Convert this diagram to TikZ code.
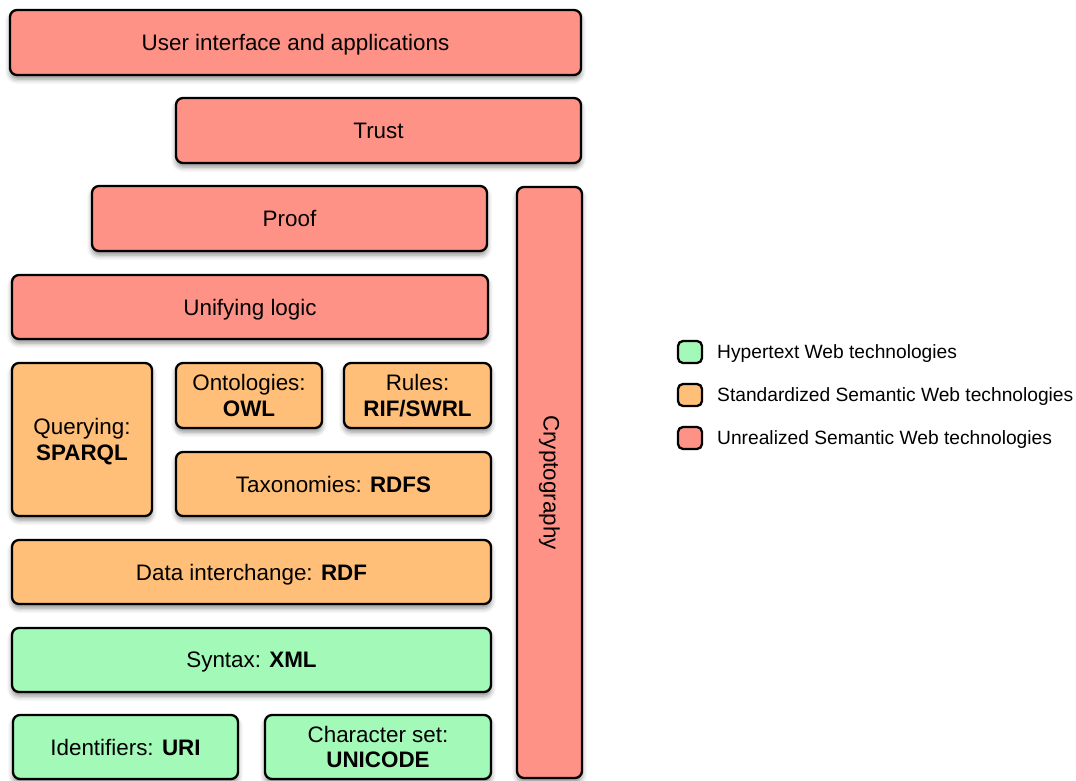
\documentclass[tikz,border=0pt]{standalone}
\usepackage{fontspec}
\setmainfont{Liberation Sans}
\usetikzlibrary{shadows.blur}

\definecolor{unrealized}{RGB}{255,146,134}
\definecolor{standard}{RGB}{255,191,120}
\definecolor{hypertext}{RGB}{163,249,183}

\tikzset{
  layer/.style={draw=black, line width=2.3pt, rounded corners=7pt,
    inner sep=0pt, align=center, text depth=0pt,
    font=\fontsize{22.4}{25.5}\selectfont,
    blur shadow={shadow xshift=0pt, shadow yshift=-4pt,
      shadow blur radius=5pt, shadow opacity=45}},
  unrealbox/.style={layer, fill=unrealized},
  standardbox/.style={layer, fill=standard},
  hyperbox/.style={layer, fill=hypertext},
  verticalbox/.style={unrealbox, text depth=},
  swatch/.style={draw=black, line width=2.3pt, rounded corners=5pt,
    minimum width=24pt, minimum height=22pt, inner sep=0pt},
  legendtext/.style={anchor=west, inner sep=0pt,
    font=\fontsize{19.2}{22}\selectfont},
}

% box from (x1,y1) to (x2,y2) in pixel units, y pointing down
\newcommand{\layerbox}[7]{%
  \node[#1, minimum width={#5-#3}, minimum height={#6-#4}]
    (#2) at ({(#3+#5)/2},{(#4+#6)/2}) {#7};}

\begin{document}
\begin{tikzpicture}[x=1pt, y=-1pt]
\useasboundingbox (0,0) rectangle (1076,781);

\layerbox{unrealbox}{ui}{10}{10}{581}{75}{User interface and applications}
\layerbox{unrealbox}{trust}{176}{98}{581}{163}{Trust}
\layerbox{unrealbox}{proof}{92}{186}{487}{251}{Proof}
\layerbox{unrealbox}{logic}{12}{275}{488}{339}{Unifying logic}
\layerbox{verticalbox}{crypto}{517}{187}{582}{778}{\rotatebox{-90}{Cryptography}}

\layerbox{standardbox}{query}{12}{363}{152}{516}{Querying:\\\textbf{SPARQL}}
\layerbox{standardbox}{onto}{176}{363}{322}{428}{Ontologies:\\\textbf{OWL}}
\layerbox{standardbox}{rules}{344}{363}{491}{428}{Rules:\\\textbf{RIF/SWRL}}
\layerbox{standardbox}{taxo}{176}{452}{491}{516}{Taxonomies: \textbf{RDFS}}
\layerbox{standardbox}{rdf}{12}{540}{491}{604}{Data interchange: \textbf{RDF}}

\layerbox{hyperbox}{xml}{12}{628}{491}{692}{Syntax: \textbf{XML}}
\layerbox{hyperbox}{uri}{13}{715}{238}{779}{Identifiers: \textbf{URI}}
\layerbox{hyperbox}{unicode}{265}{715}{491}{779}{Character set:\\\textbf{UNICODE}}

% legend
\node[swatch, fill=hypertext] (lg1) at (690,352) {};
\node[swatch, fill=standard] (lg2) at (690,395) {};
\node[swatch, fill=unrealized] (lg3) at (690,438) {};
\node[legendtext] (lt1) at (717,353.5) {Hypertext Web technologies};
\node[legendtext] (lt2) at (717,396.5) {Standardized Semantic Web technologies};
\node[legendtext] (lt3) at (717,439.5) {Unrealized Semantic Web technologies};
\end{tikzpicture}
\end{document}
